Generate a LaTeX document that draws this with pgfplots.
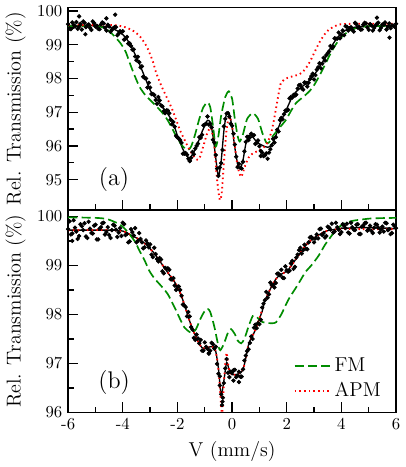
\documentclass[border=0pt]{standalone}
\usepackage{pgfplots}
\pgfplotsset{compat=1.18}
\usepackage{pgfplotstable}

\definecolor{fmgreen}{RGB}{0,140,0}

% x  data  fit   -- panel (a)
\pgfplotstableread{
x data fit
-6.0 99.61 99.55
-5.9 99.46 99.55
-5.8 99.59 99.56
-5.7 99.67 99.56
-5.6 99.53 99.57
-5.5 99.45 99.57
-5.4 99.65 99.57
-5.3 99.58 99.57
-5.2 99.50 99.56
-5.1 99.69 99.56
-5.0 99.54 99.56
-4.9 99.47 99.55
-4.8 99.60 99.55
-4.7 99.63 99.54
-4.6 99.42 99.53
-4.5 99.54 99.52
-4.4 99.44 99.49
-4.3 99.52 99.45
-4.2 99.28 99.41
-4.1 99.40 99.36
-4.0 99.40 99.30
-3.9 99.18 99.21
-3.8 99.03 99.10
-3.7 98.96 98.96
-3.6 98.86 98.80
-3.5 98.54 98.63
-3.4 98.48 98.45
-3.3 98.36 98.25
-3.2 98.01 98.05
-3.1 97.73 97.85
-3.0 97.73 97.65
-2.9 97.54 97.53
-2.8 97.36 97.42
-2.7 97.45 97.32
-2.6 97.20 97.22
-2.5 97.03 97.11
-2.4 97.05 97.00
-2.3 96.97 96.88
-2.2 96.64 96.75
-2.1 96.57 96.55
-2.0 96.25 96.30
-1.9 96.17 96.10
-1.8 95.77 95.90
-1.7 95.79 95.75
-1.6 95.62 95.65
-1.5 95.65 95.68
-1.4 95.75 95.82
-1.3 96.00 96.00
-1.2 96.26 96.20
-1.1 96.33 96.42
-1.0 96.63 96.60
-0.9 96.87 96.76
-0.8 96.66 96.70
-0.7 96.18 96.30
-0.6 95.73 95.65
-0.5 95.11 95.10
-0.4 95.49 95.55
-0.3 96.58 96.45
-0.2 96.96 96.98
-0.1 96.87 96.95
0.0 96.60 96.55
0.1 96.04 95.95
0.2 95.37 95.48
0.3 95.35 95.33
0.4 95.53 95.58
0.5 96.12 96.05
0.6 96.17 96.30
0.7 96.36 96.32
0.8 96.32 96.22
0.9 96.09 96.12
1.0 95.99 96.06
1.1 95.80 96.02
1.2 95.72 95.98
1.3 95.62 95.96
1.4 95.90 95.98
1.5 96.21 96.10
1.6 96.26 96.30
1.7 96.43 96.55
1.8 96.83 96.75
1.9 96.94 96.93
2.0 97.04 97.10
2.1 97.41 97.28
2.2 97.43 97.45
2.3 97.49 97.57
2.4 97.70 97.65
2.5 97.81 97.72
2.6 97.67 97.78
2.7 97.87 97.85
2.8 97.87 97.92
2.9 98.07 98.00
3.0 97.97 98.10
3.1 98.26 98.22
3.2 98.45 98.35
3.3 98.44 98.47
3.4 98.53 98.60
3.5 98.75 98.75
3.6 98.96 98.90
3.7 98.94 99.03
3.8 99.18 99.15
3.9 99.36 99.25
4.0 99.29 99.33
4.1 99.28 99.40
4.2 99.53 99.45
4.3 99.49 99.48
4.4 99.44 99.50
4.5 99.65 99.52
4.6 99.51 99.53
4.7 99.45 99.53
4.8 99.59 99.54
4.9 99.63 99.54
5.0 99.44 99.55
5.1 99.57 99.55
5.2 99.50 99.55
5.3 99.62 99.55
5.4 99.43 99.56
5.5 99.60 99.56
5.6 99.66 99.56
5.7 99.53 99.56
5.8 99.49 99.56
5.9 99.56 99.56
6.0 99.62 99.56
}\toptab

% in-between channels, panel (a)
\pgfplotstableread{
x data
-5.95 99.48
-5.85 99.66
-5.75 99.54
-5.65 99.47
-5.55 99.62
-5.45 99.69
-5.35 99.52
-5.25 99.60
-5.15 99.44
-5.05 99.64
-4.95 99.56
-4.85 99.46
-4.75 99.66
-4.65 99.50
-4.55 99.59
-4.45 99.38
-4.35 99.49
-4.25 99.52
-4.15 99.33
-4.05 99.37
-3.95 99.15
-3.85 99.23
-3.75 99.04
-3.65 98.85
-3.55 98.65
-3.45 98.64
-3.35 98.33
-3.25 98.05
-3.15 98.00
-3.05 97.87
-2.95 97.54
-2.85 97.51
-2.75 97.25
-2.65 97.35
-2.55 97.17
-2.45 96.97
-2.35 97.05
-2.25 96.78
-2.15 96.71
-2.05 96.30
-1.95 96.22
-1.85 96.09
-1.75 95.77
-1.65 95.74
-1.55 95.56
-1.45 95.82
-1.35 95.92
-1.25 96.07
-1.15 96.24
-1.05 96.61
-0.95 96.66
-0.85 96.63
-0.75 96.55
-0.65 96.10
-0.55 95.33
-0.45 95.36
-0.35 95.88
-0.25 96.80
-0.15 96.97
-0.05 96.66
0.05 96.36
0.15 95.68
0.25 95.47
0.35 95.33
0.45 95.84
0.55 96.27
0.65 96.25
0.75 96.31
0.85 96.06
0.95 96.16
1.05 95.85
1.15 95.70
1.25 95.78
1.35 95.80
1.45 96.02
1.55 96.10
1.65 96.48
1.75 96.77
1.85 96.79
1.95 97.05
2.05 97.07
2.15 97.45
2.25 97.51
2.35 97.52
2.45 97.80
2.55 97.71
2.65 97.88
2.75 97.76
2.85 97.98
2.95 98.14
3.05 98.10
3.15 98.33
3.25 98.30
3.35 98.61
3.45 98.69
3.55 98.80
3.65 98.90
3.75 99.19
3.85 99.18
3.95 99.19
4.05 99.42
4.15 99.55
4.25 99.42
4.35 99.52
4.45 99.39
4.55 99.61
4.65 99.53
4.75 99.45
4.85 99.65
4.95 99.51
5.05 99.61
5.15 99.42
5.25 99.57
5.35 99.65
5.45 99.50
5.55 99.60
5.65 99.45
5.75 99.63
5.85 99.57
5.95 99.53
}\toptabb

% x  data  fit   -- panel (b)
\pgfplotstableread{
x data fit
-6.0 99.74 99.72
-5.9 99.63 99.72
-5.8 99.92 99.72
-5.7 99.69 99.72
-5.6 99.60 99.72
-5.5 99.80 99.72
-5.4 99.86 99.72
-5.3 99.56 99.72
-5.2 99.75 99.72
-5.1 99.65 99.72
-5.0 99.83 99.72
-4.9 99.53 99.72
-4.8 99.78 99.72
-4.7 99.87 99.72
-4.6 99.68 99.72
-4.5 99.62 99.72
-4.4 99.72 99.72
-4.3 99.81 99.72
-4.2 99.58 99.71
-4.1 99.76 99.71
-4.0 99.87 99.70
-3.9 99.62 99.68
-3.8 99.47 99.65
-3.7 99.74 99.62
-3.6 99.61 99.59
-3.5 99.47 99.56
-3.4 99.66 99.53
-3.3 99.47 99.49
-3.2 99.37 99.45
-3.1 99.45 99.40
-3.0 99.43 99.34
-2.9 99.17 99.28
-2.8 99.23 99.21
-2.7 99.08 99.13
-2.6 99.12 99.05
-2.5 98.84 98.97
-2.4 98.93 98.89
-2.3 98.91 98.81
-2.2 98.71 98.74
-2.1 98.59 98.66
-2.0 98.56 98.56
-1.9 98.50 98.44
-1.8 98.20 98.29
-1.7 98.15 98.12
-1.6 98.05 97.94
-1.5 97.74 97.78
-1.4 97.52 97.64
-1.3 97.59 97.51
-1.2 97.41 97.40
-1.1 97.26 97.32
-1.0 97.43 97.30
-0.9 97.30 97.32
-0.8 97.26 97.34
-0.7 97.39 97.34
-0.6 97.34 97.25
-0.5 96.79 96.90
-0.4 96.37 96.35
-0.3 96.60 96.65
-0.2 97.09 97.02
-0.1 96.72 96.85
0.0 96.81 96.77
0.1 96.87 96.77
0.2 96.75 96.78
0.3 96.73 96.80
0.4 96.88 96.88
0.5 97.16 97.10
0.6 97.29 97.38
0.7 97.55 97.52
0.8 97.73 97.62
0.9 97.72 97.76
1.0 97.80 97.92
1.1 98.14 98.06
1.2 98.29 98.28
1.3 98.34 98.40
1.4 98.65 98.52
1.5 98.60 98.62
1.6 98.64 98.72
1.7 98.83 98.78
1.8 98.91 98.82
1.9 98.74 98.85
2.0 98.90 98.88
2.1 98.89 98.94
2.2 99.09 99.02
2.3 98.97 99.10
2.4 99.22 99.18
2.5 99.36 99.26
2.6 99.31 99.34
2.7 99.34 99.41
2.8 99.47 99.47
2.9 99.58 99.52
3.0 99.47 99.56
3.1 99.63 99.60
3.2 99.74 99.63
3.3 99.62 99.66
3.4 99.57 99.69
3.5 99.79 99.71
3.6 99.73 99.72
3.7 99.67 99.73
3.8 99.87 99.74
3.9 99.73 99.75
4.0 99.68 99.76
4.1 99.81 99.76
4.2 99.85 99.76
4.3 99.65 99.76
4.4 99.78 99.76
4.5 99.72 99.77
4.6 99.84 99.77
4.7 99.64 99.77
4.8 99.81 99.77
4.9 99.87 99.77
5.0 99.74 99.77
5.1 99.70 99.77
5.2 99.77 99.77
5.3 99.83 99.76
5.4 99.67 99.76
5.5 99.79 99.76
5.6 99.87 99.76
5.7 99.72 99.76
5.8 99.64 99.76
5.9 99.83 99.75
6.0 99.76 99.75
}\bottab

% in-between channels, panel (b)
\pgfplotstableread{
x data
-5.95 99.90
-5.85 99.65
-5.75 99.77
-5.65 99.54
-5.55 99.84
-5.45 99.72
-5.35 99.59
-5.25 99.89
-5.15 99.66
-5.05 99.81
-4.95 99.53
-4.85 99.75
-4.75 99.86
-4.65 99.63
-4.55 99.78
-4.45 99.56
-4.35 99.83
-4.25 99.73
-4.15 99.67
-4.05 99.60
-3.95 99.84
-3.85 99.64
-3.75 99.49
-3.65 99.68
-3.55 99.76
-3.45 99.50
-3.35 99.54
-3.25 99.35
-3.15 99.51
-3.05 99.37
-2.95 99.22
-2.85 99.36
-2.75 99.13
-2.65 99.15
-2.55 98.88
-2.45 98.95
-2.35 98.94
-2.25 98.72
-2.15 98.74
-2.05 98.50
-1.95 98.57
-1.85 98.38
-1.75 98.18
-1.65 97.96
-1.55 97.96
-1.45 97.69
-1.35 97.48
-1.25 97.51
-1.15 97.48
-1.05 97.26
-0.95 97.34
-0.85 97.21
-0.75 97.42
-0.65 97.30
-0.55 96.99
-0.45 96.74
-0.35 96.22
-0.25 96.90
-0.15 96.81
-0.05 96.83
0.05 96.86
0.15 96.72
0.25 96.83
0.35 96.73
0.45 97.06
0.55 97.25
0.65 97.42
0.75 97.50
0.85 97.79
0.95 97.82
1.05 97.89
1.15 98.22
1.25 98.46
1.35 98.41
1.45 98.60
1.55 98.55
1.65 98.83
1.75 98.80
1.85 98.75
1.95 98.98
2.05 98.87
2.15 99.04
2.25 98.93
2.35 99.16
2.45 99.31
2.55 99.24
2.65 99.42
2.75 99.33
2.85 99.57
2.95 99.55
3.05 99.55
3.15 99.55
3.25 99.75
3.35 99.66
3.45 99.60
3.55 99.77
3.65 99.85
3.75 99.69
3.85 99.78
3.95 99.64
4.05 99.84
4.15 99.76
4.25 99.67
4.35 99.87
4.45 99.73
4.55 99.83
4.65 99.64
4.75 99.79
4.85 99.86
4.95 99.71
5.05 99.81
5.15 99.66
5.25 99.84
5.35 99.77
5.45 99.73
5.55 99.69
5.65 99.86
5.75 99.74
5.85 99.66
5.95 99.80
}\bottabb

\pgfplotsset{
  moss/.style={
    width=196pt, height=121pt, scale only axis,
    xmin=-6, xmax=6,
    xtick={-6,-4,...,6}, minor x tick num=1, minor y tick num=1,
    xtick pos=bottom, ytick pos=left, tick align=inside,
    major tick length=6pt, minor tick length=3.5pt,
    axis line style={line width=0.9pt},
    every tick/.style={black, line width=0.8pt},
    ylabel={Rel. Transmission (\%)},
    ylabel style={font=\large},
    clip=true,
  },
  datamk/.style={only marks, mark=*, mark size=1.1pt, black, forget plot},
  fitln/.style={black, line width=0.8pt, smooth, tension=0.4, forget plot},
  fmln/.style={fmgreen, line width=1pt, dash pattern=on 5.5pt off 2.5pt},
  apmln/.style={red, line width=1.1pt, dash pattern=on 0.9pt off 1.9pt},
}

\begin{document}
\begin{tikzpicture}
% ---------- (a) ----------
\begin{axis}[moss, name=top,
  ymin=94.1, ymax=100.1, ytick={95,...,100},
  xticklabels={}]
  \addplot[datamk] table[x=x, y=data] {\toptab};
  \addplot[datamk] table[x=x, y=data] {\toptabb};
  \addplot[datamk] coordinates {(-5.37,99.31) (-4.28,99.89) (-5.6,99.84) (-4.6,99.78) (5.76,99.21) (5.3,99.80) (-1.55,95.55) (1.05,95.70)};
  \addplot[fitln] table[x=x, y=fit] {\toptab};
  % FM
  \addplot[fmln, smooth, tension=0.4] coordinates {
    (-6,99.55) (-5,99.55) (-4.8,99.53) (-4.6,99.46) (-4.4,99.33) (-4.1,99.06)
    (-3.9,98.80) (-3.75,98.47) (-3.6,98.15) (-3.4,97.77) (-3.2,97.53) (-3.0,97.36)
    (-2.8,97.20) (-2.54,96.97) (-2.35,96.75) (-2.17,96.48) (-2.0,96.22) (-1.8,95.98)
    (-1.62,95.88) (-1.5,95.98) (-1.35,96.35) (-1.2,96.80) (-1.05,97.15) (-0.9,97.29)
    (-0.8,97.15) (-0.7,96.60) (-0.6,95.98) (-0.5,96.30) (-0.4,96.90) (-0.25,97.45)
    (-0.12,97.62) (0.0,97.40) (0.1,96.80) (0.2,96.30) (0.28,96.13) (0.4,96.35)
    (0.55,96.80) (0.76,96.97) (0.95,96.80) (1.1,96.40) (1.25,96.10) (1.35,96.10)
    (1.5,96.30) (1.75,96.55) (1.98,96.78) (2.15,97.03) (2.34,97.27) (2.6,97.45)
    (2.83,97.62) (3.0,97.80) (3.19,98.07) (3.38,98.37) (3.56,98.67) (3.75,98.95)
    (3.93,99.16) (4.15,99.33) (4.42,99.46) (4.7,99.52) (5,99.55) (6,99.55)};
  % APM
  \addplot[apmln, smooth, tension=0.4] coordinates {
    (-6,99.58) (-4.5,99.58) (-4.2,99.57) (-3.88,99.51) (-3.6,99.40) (-3.39,99.26)
    (-3.2,99.05) (-3.08,98.87) (-2.9,98.50) (-2.78,98.17) (-2.6,97.80) (-2.41,97.47)
    (-2.2,97.10) (-2.05,96.78) (-1.9,96.45) (-1.74,96.18) (-1.6,95.95) (-1.44,95.73)
    (-1.3,95.60) (-1.2,95.62) (-1.05,96.00) (-0.9,96.40) (-0.77,96.53) (-0.65,96.00)
    (-0.55,95.00) (-0.45,94.40) (-0.38,94.60) (-0.3,95.50) (-0.2,96.50) (-0.1,96.87)
    (0.0,96.60) (0.1,96.00) (0.2,95.40) (0.33,95.08) (0.45,95.35) (0.6,95.65)
    (0.76,95.78) (0.95,95.85) (1.12,95.93) (1.3,96.10) (1.45,96.45) (1.55,96.85)
    (1.65,97.30) (1.79,97.87) (2.04,98.02) (2.46,98.12) (2.65,98.25) (2.83,98.47)
    (3.0,98.75) (3.19,99.06) (3.38,99.30) (3.56,99.46) (3.93,99.60) (4.5,99.62) (6,99.62)};
  \node at (axis cs:-4.32,95.0) {\Large (a)};
\end{axis}
% ---------- (b) ----------
\begin{axis}[moss, at={(top.south west)}, anchor=north west,
  ymin=96, ymax=100.13, ytick={96,...,100},
  xticklabels={-6,-4,-2,0,2,4,6},
  xlabel={V (mm/s)}, xlabel style={font=\large},
  legend style={at={(rel axis cs:0.98,0.03)}, anchor=south east,
    draw=none, fill=none, font=\large, row sep=1pt},
  legend cell align=left,
  legend image code/.code={\draw[#1] (0cm,0cm) -- (0.75cm,0cm);}]
  \addplot[datamk] table[x=x, y=data] {\bottab};
  \addplot[datamk] table[x=x, y=data] {\bottabb};
  \addplot[datamk] coordinates {(-0.37,96.15) (-0.34,96.30) (-0.45,96.55) (0.05,96.65) (0.25,96.62) (-0.85,97.20) (-5.85,99.50)};
  \addplot[fitln] table[x=x, y=fit] {\bottab};
  % FM
  \addplot[fmln, smooth, tension=0.4] coordinates {
    (-6,99.98) (-5,99.97) (-4.61,99.95) (-4.4,99.91) (-4.12,99.84) (-3.95,99.76)
    (-3.76,99.64) (-3.55,99.48) (-3.39,99.30) (-3.2,99.10) (-3.03,98.89) (-2.85,98.74)
    (-2.66,98.62) (-2.5,98.52) (-2.35,98.41) (-2.2,98.25) (-2.05,98.08) (-1.9,97.90)
    (-1.74,97.73) (-1.55,97.64) (-1.44,97.63) (-1.32,97.70) (-1.15,97.92) (-1.0,98.07)
    (-0.89,98.11) (-0.8,98.05) (-0.65,97.75) (-0.5,97.35) (-0.43,97.27) (-0.3,97.40)
    (-0.15,97.63) (-0.04,97.70) (0.1,97.60) (0.2,97.47) (0.33,97.41) (0.45,97.50)
    (0.6,97.75) (0.76,97.97) (0.9,97.95) (1.05,97.86) (1.22,97.83) (1.46,97.82)
    (1.61,97.84) (1.8,98.00) (2.07,98.31) (2.4,98.60) (2.68,98.86) (2.9,99.00)
    (3.17,99.20) (3.4,99.42) (3.66,99.62) (3.81,99.74) (4.1,99.85) (4.42,99.91)
    (4.8,99.94) (5.15,99.96) (6,99.97)};
  \addlegendentry{FM}
  % APM
  \addplot[apmln, smooth, tension=0.4] coordinates {
    (-6,99.72) (-4.5,99.72) (-4,99.70) (-3.8,99.65) (-3.6,99.59) (-3.4,99.53)
    (-3.2,99.45) (-3.0,99.34) (-2.8,99.21) (-2.6,99.05) (-2.4,98.89) (-2.2,98.74)
    (-2.0,98.56) (-1.9,98.44) (-1.8,98.29) (-1.7,98.12) (-1.6,97.94) (-1.5,97.78)
    (-1.4,97.64) (-1.3,97.51) (-1.2,97.40) (-1.1,97.32) (-1.0,97.30) (-0.8,97.34)
    (-0.65,97.32) (-0.55,97.10) (-0.47,96.70) (-0.40,96.10) (-0.36,96.00) (-0.31,96.50)
    (-0.25,97.00) (-0.2,97.22) (-0.15,97.00) (-0.08,96.80) (0.0,96.77) (0.2,96.78)
    (0.4,96.88) (0.5,97.10) (0.6,97.38) (0.7,97.52) (0.8,97.62) (1.0,97.92)
    (1.2,98.28) (1.4,98.52) (1.6,98.72) (1.8,98.82) (2.0,98.88) (2.2,99.02)
    (2.4,99.18) (2.6,99.34) (2.8,99.47) (3.0,99.56) (3.2,99.63) (3.5,99.71)
    (4.0,99.74) (5,99.74) (6,99.74)};
  \addlegendentry{APM}
  \node at (axis cs:-4.32,96.61) {\Large (b)};
\end{axis}
\end{tikzpicture}
\end{document}
